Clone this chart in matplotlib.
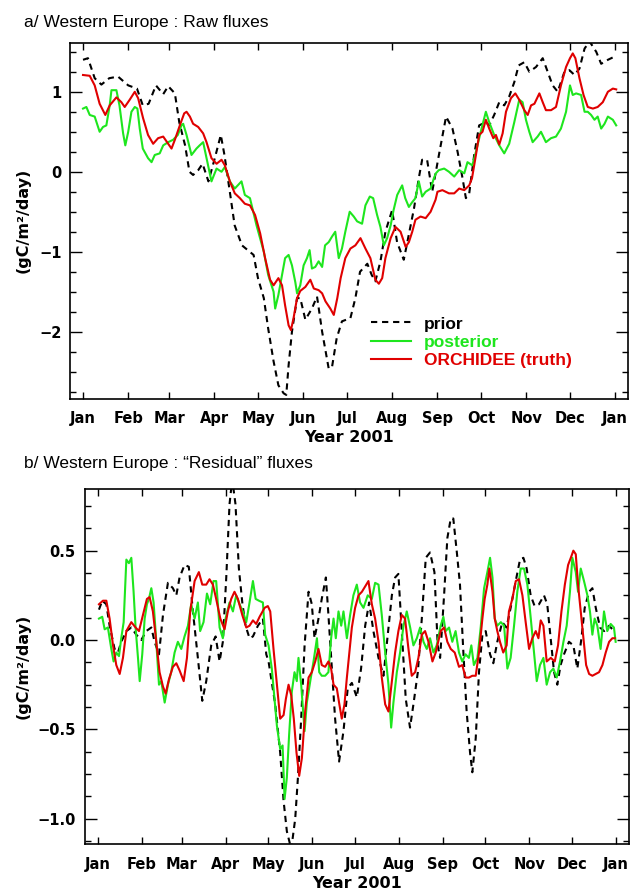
#!/usr/bin/env python3

import numpy as np
import matplotlib as mpl
mpl.use('Agg')
import matplotlib.pyplot as plt
from matplotlib.ticker import MultipleLocator, FuncFormatter

# day of year (0 = 1 Jan 2001) and fluxes in gC/m2/day

# ---- panel a : raw fluxes
a_prior_day = [0, 3.4, 8, 12.6, 18, 24, 31, 37, 41, 45, 50, 55, 58.4, 63, 66, 70, 73, 75.5, 79, 82,
               86, 90.4, 94.5, 97, 101, 104, 109, 113, 117, 120,
               124, 127, 130.7, 134, 137.6, 139.4, 141, 143.3, 146.8, 149, 152.5, 157, 160.5, 164,
               168.5, 170.8, 174, 177.6, 183.4, 186.8, 190, 195, 198, 200.5, 204, 207.4, 212, 215.4,
               220, 222, 227, 230.3, 232.6, 236, 239.5, 244, 249,
               253.4, 256.9, 260.3, 262.6, 264.9, 268.3, 271.7, 276.3, 278.6, 282, 285.5, 288.9,
               292.3, 295.8, 298.8, 302.7, 306.1, 310.7, 315.3, 318.7, 322.1, 325.6, 330.2, 333.6,
               337.1, 340.5, 344, 347.4, 352, 355.4, 360, 364.6]
a_prior_val = [1.40, 1.42, 1.17, 1.09, 1.17, 1.19, 1.08, 1.04, 0.83, 0.85, 1.08, 0.97, 1.07, 0.98, 0.62,
               0.33, 0.0, -0.04, 0.02, 0.10, -0.12, 0.17, 0.46, 0.21, -0.29, -0.67, -0.92, -0.98, -1.04, -1.33,
               -1.58, -1.96, -2.37, -2.67, -2.77, -2.79, -2.42, -2.0, -1.58, -1.58, -1.85, -1.71, -1.56, -2.0,
               -2.46, -2.44, -2.08, -1.87, -1.83, -1.58, -1.25, -1.15, -1.29, -1.37, -1.12, -0.75, -0.48, -0.88,
               -1.10, -0.92, -0.46, -0.08, 0.15, 0.15, -0.25, 0.2, 0.69,
               0.54, 0.25, -0.08, -0.33, -0.27, 0.21, 0.58, 0.62, 0.58, 0.71, 0.87, 0.83,
               0.94, 1.12, 1.33, 1.37, 1.25, 1.31, 1.42, 1.25, 1.08, 1.0, 1.25, 1.27,
               1.21, 1.29, 1.54, 1.63, 1.5, 1.35, 1.4, 1.44]

a_post_day = [0, 2.3, 4.6, 8, 11.4, 13.7, 16, 18.3, 19.5, 22.9, 25, 27.5, 29, 31, 33.2, 35.5, 37.3, 38.9,
              41, 44.6, 47, 49.2, 52.6, 55, 58.4, 61.8, 65, 67.5, 68.7, 71, 74.4, 77.8, 80, 82.4, 84.7,
              88.1, 91.6, 95, 97.3, 100.7, 104.1, 108.7, 111, 114.5,
              119, 124, 127, 130.7, 131.8, 134, 136.5, 138.6, 141, 143.3, 145.6, 146.8, 149, 151.3,
              153.6, 155.4, 157, 159.3, 161.6, 164, 166, 168.5, 170.8, 173, 175.4, 177.6, 179.9, 182.9,
              185.7, 188, 191.4, 193.7, 196.7, 199, 201.7, 204, 206.3, 208.6, 211, 213, 215.5, 218.9,
              221, 223.5, 225.8, 228, 230.3, 232.6, 235, 238.4, 240.7,
              242, 244, 247.7, 251, 254.6, 258, 261.5, 263.7, 267, 269.5, 272.8, 276.3, 278.6, 282,
              285.5, 288.9, 292.3, 295.8, 299.2, 301.5, 303.8, 306.1, 308.4, 311.8, 314.1, 317.5, 321,
              324.4, 327.8, 331.3, 334, 335.9, 338.2, 341.6, 344, 346.2, 348.5, 350.8, 353, 355.4,
              357.7, 360, 363.4, 365.7]
a_post_val = [0.79, 0.81, 0.71, 0.69, 0.5, 0.56, 0.58, 0.83, 1.02, 1.02, 0.83, 0.48, 0.33, 0.5, 0.75, 0.81,
              0.79, 0.54, 0.29, 0.17, 0.12, 0.21, 0.23, 0.33, 0.37, 0.40, 0.46, 0.58, 0.60, 0.46, 0.21,
              0.29, 0.33, 0.37, 0.17, -0.12, 0.04, 0.0, 0.06, -0.12, -0.21, -0.12, -0.29, -0.33,
              -0.67, -1.0, -1.29, -1.5, -1.71, -1.54, -1.29, -1.08, -1.04, -1.17, -1.38, -1.52, -1.42, -1.17,
              -1.08, -0.98, -1.21, -1.19, -1.12, -1.19, -0.92, -0.88, -0.81, -0.75, -1.08, -0.96, -0.75, -0.50,
              -0.56, -0.62, -0.65, -0.42, -0.31, -0.33, -0.54, -0.69, -0.92, -0.83, -0.67, -0.48, -0.29, -0.17,
              -0.33, -0.44, -0.38, -0.33, -0.12, -0.31, -0.25, -0.21, -0.08,
              -0.02, 0.02, 0.04, 0.0, -0.06, 0.02, -0.02, 0.12, 0.08, 0.25, 0.5, 0.75, 0.62, 0.46,
              0.33, 0.23, 0.35, 0.62, 0.9, 0.87, 0.65, 0.5, 0.37, 0.44, 0.5, 0.37, 0.42,
              0.44, 0.54, 0.75, 1.08, 0.96, 0.98, 0.96, 0.75, 0.75, 0.71, 0.65, 0.69, 0.54,
              0.6, 0.69, 0.65, 0.58]

a_truth_day = [0, 4.6, 8, 11.4, 15.3, 18.3, 22.9, 26.3, 28.6, 32, 35.5, 37.8, 41.2, 44.6, 48.1, 51.5, 55,
               58.4, 60.7, 63, 66.4, 69.4, 71, 73.3, 75.5, 79, 82.4, 84.7, 88.1, 91.6, 95, 97.3, 100.7,
               104.1, 107.6, 111, 114.5,
               118, 121.5, 124.9, 128.3, 130.7, 134, 136.5, 138.6, 141, 142.6, 144.4, 146.8, 149, 152.5,
               155.9, 158.3, 161.6, 164, 166.3, 169.6, 172, 174.4, 176.7, 179.9, 183.4, 186.8, 190.3,
               193.7, 197.1, 200.5, 202.9, 205.2, 207.4, 211, 214.3, 217.8, 221.3, 223.5, 225.8, 228,
               231.5, 235, 238.4, 241.8,
               243.1, 246.5, 251, 254.6, 258, 261.5, 264.9, 266.8, 269.5, 271.7, 274, 276.3, 278.6, 281.4,
               283.2, 285.5, 287.8, 290.1, 293.5, 296.5, 299.2, 302.7, 305, 307.3, 309.6, 313, 315.3,
               317.5, 321, 324.4, 327.8, 331.3, 334, 335.9, 337.7, 340.5, 343.3, 346.2, 349.7, 353,
               356.5, 360, 363.4, 365.7]
a_truth_val = [1.21, 1.2, 1.08, 0.85, 0.71, 0.83, 0.93, 0.87, 0.81, 0.9, 1.0, 0.92, 0.67, 0.46, 0.35, 0.42,
               0.44, 0.35, 0.29, 0.4, 0.58, 0.73, 0.75, 0.69, 0.6, 0.56, 0.48, 0.37, 0.17, 0.1, 0.15, 0.08,
               -0.12, -0.27, -0.33, -0.4, -0.42,
               -0.54, -0.77, -1.08, -1.35, -1.42, -1.33, -1.42, -1.67, -1.92, -1.98, -1.83, -1.58, -1.49, -1.44,
               -1.35, -1.46, -1.48, -1.52, -1.62, -1.71, -1.79, -1.58, -1.33, -1.08, -0.96, -0.92, -0.83,
               -0.96, -1.08, -1.35, -1.4, -1.33, -1.08, -0.83, -0.69, -0.75, -0.94, -0.88, -0.75, -0.6,
               -0.56, -0.58, -0.5, -0.35,
               -0.25, -0.23, -0.27, -0.27, -0.21, -0.23, -0.17, -0.08, 0.21, 0.46, 0.5, 0.65, 0.54, 0.42,
               0.46, 0.34, 0.48, 0.75, 0.92, 0.98, 0.9, 0.77, 0.71, 0.83, 0.85, 0.98, 0.87,
               0.77, 0.77, 0.81, 1.08, 1.31, 1.42, 1.48, 1.42, 1.17, 0.96, 0.81, 0.79, 0.81,
               0.87, 1.0, 1.04, 1.03]

# ---- panel b : "residual" fluxes
b_prior_day = [0.7, 3, 5.9, 8.2, 11.7, 14.1, 16.4, 20, 23.5, 27, 30.5, 34, 37.6, 39.9, 43, 45.8, 49.3,
               52.8, 55.2, 57.5, 61, 64, 66.9, 70.4, 73.5, 76.3, 79.8, 82.9, 85.7, 88, 90.4, 92.7, 94.6,
               96.9, 99.3, 101.7, 104, 106.8, 109.2, 112.7, 116.2, 118.6,
               120.2, 124.9, 128.4, 130.8, 133.1, 136.2, 139, 140.9, 143.2, 145.6, 148.4, 150.7, 152.6,
               155.4, 157.7, 160.6, 162.4, 164.8, 167.1, 169.9, 173, 176, 178.9, 182.4, 185.4, 188.3,
               191.1, 194.1, 197.7, 201.2, 204.2, 207.1, 209.4, 211.7, 214.1, 216.9, 219.9, 222.3,
               225.4, 228.2, 231, 234, 237.1, 239.4, 241.1,
               243.9, 246.2, 248.6, 250.4, 252.9, 255.1, 257.5, 259.8, 262.2, 263.8, 266.2, 268.5,
               270.9, 273.2, 276.3, 278.6, 281.4, 284.9, 287.9, 290.8, 294.4, 297.4, 299.8, 302.1,
               304.9, 307.7, 310.8, 314.3, 316.6, 319, 321.4, 323.7, 326, 328.4, 331.9, 335, 337.8,
               340.7, 343, 346.1, 348.4, 350.8, 353.8, 356.7, 360.2, 363.7]
b_prior_val = [0.17, 0.22, 0.2, 0.08, -0.05, -0.07, -0.01, 0.05, 0.07, 0.03, 0.0, 0.05, 0.07, -0.01, -0.08,
               0.14, 0.32, 0.29, 0.25, 0.35, 0.42, 0.41, 0.16, -0.10, -0.34, -0.23, -0.03, 0.02, -0.12,
               -0.01, 0.35, 0.76, 0.90, 0.76, 0.4, 0.21, 0.08, 0.01, 0.02, 0.08, 0.12, -0.08,
               -0.12, -0.36, -0.63, -0.9, -1.07, -1.17, -1.0, -0.77, -0.44, -0.03, 0.27, 0.2, 0.01,
               0.12, 0.23, 0.35, 0.14, -0.16, -0.44, -0.68, -0.51, -0.27, -0.24, -0.32, -0.16, 0.08,
               0.21, 0.05, -0.1, -0.2, 0.03, 0.25, 0.35, 0.37, 0.05, -0.33, -0.49, -0.36,
               -0.18, 0.12, 0.46, 0.49, 0.38, -0.03, -0.1,
               0.25, 0.57, 0.68, 0.68, 0.49, 0.31, -0.07, -0.4, -0.63, -0.74, -0.55, -0.18,
               0.03, 0.05, -0.08, -0.13, -0.01, 0.10, 0.07, 0.18, 0.33, 0.45, 0.46, 0.4,
               0.25, 0.19, 0.2, 0.25, 0.2, 0.01, -0.18, -0.25, -0.14, -0.08, -0.01, -0.03, -0.16,
               0.01, 0.18, 0.27, 0.29, 0.18, 0.07, 0.05, 0.08, 0.05]

b_post_day = [0.7, 3, 4.7, 7, 9.4, 11, 12.9, 14.8, 16.4, 18.1, 20, 21.8, 23.5, 25.1, 26.5, 28.2, 29.4,
              31.2, 32.9, 34.5, 35.9, 37.6, 39.2, 41.1, 43, 44.6, 47, 49.3, 51.6, 54, 56.3, 58.7, 61,
              63.4, 65.7, 68.1, 70.4, 72, 74.4, 76.8, 79.1, 81.4, 83.3, 85.7, 88, 89.9, 92.7, 95.1,
              97.4, 99.8, 102.1, 104.5, 106.8, 109.2, 111.1, 113.4, 116.2,
              117.8, 120.2, 122.5, 124.4, 126.1, 128.4, 130.1, 131.5, 133.1, 134.7, 136.6, 138.5,
              140.1, 141.3, 143.2, 145.6, 147.2, 149.6, 151.9, 154.3, 155.9, 157.7, 160.1, 162.4,
              164.3, 166, 167.6, 169.5, 171.4, 173, 175.4, 177.7, 180, 182.4, 184.7, 187.1, 190.1,
              193, 195.3, 197.7, 200, 202.4, 204.7, 206.6, 208.2, 210.6, 212.9, 215.3, 217.6, 220,
              222.3, 224.7, 227, 229.4, 231.7, 234, 236.4, 238.7,
              241.5, 243.4, 245, 247.4, 249.7, 252, 254.4, 256.7, 259, 261.4, 263.1, 264.9, 267.4,
              269.7, 272.1, 274.4, 276.3, 278, 279.6, 281.4, 283.9, 286.2, 288.5, 290.8, 293.2,
              295.5, 297.9, 300.2, 302.6, 305, 307.3, 309.2, 311.5, 313.9, 316.2, 318.6, 320.9,
              323.3, 325.6, 328, 330.3, 332.6, 334.3, 336.7, 338.3, 340.2, 342.5, 344.9, 346.7,
              348.4, 350, 351.9, 354.2, 356.6, 358.9, 361.3, 363.6, 364.8]
b_post_val = [0.12, 0.13, 0.06, 0.07, -0.05, -0.12, -0.07, -0.09, 0.01, 0.10, 0.45, 0.43, 0.46, 0.27, 0.07,
              -0.10, -0.23, -0.08, 0.12, 0.2, 0.23, 0.29, 0.21, -0.01, -0.25, -0.23, -0.35, -0.25, -0.18,
              -0.07, -0.01, -0.05, 0.02, 0.08, 0.2, 0.12, 0.21, 0.05, 0.1, 0.26, 0.2, 0.33, 0.33, 0.07,
              0.01, 0.12, 0.21, 0.16, 0.25, 0.2, 0.16, 0.10, 0.21, 0.33, 0.23, 0.22, 0.21,
              0.03, -0.03, -0.16, -0.33, -0.48, -0.61, -0.59, -0.89, -0.77, -0.53, -0.29, -0.18,
              -0.23, -0.1, -0.25, -0.51, -0.35, -0.23, -0.12, 0.01, -0.18, -0.2, -0.2, -0.18,
              0.01, 0.12, 0.01, 0.16, 0.08, 0.16, 0.01, 0.14, 0.25, 0.31, 0.21, 0.18, 0.25,
              0.23, 0.32, 0.31, 0.14, -0.07, -0.25, -0.49, -0.35, -0.18, -0.07, 0.08, 0.16, 0.07,
              -0.03, 0.01, 0.07, -0.01, -0.05, 0.01, -0.07, -0.03,
              0.08, 0.13, 0.05, 0.07, -0.01, 0.05, -0.07, -0.12, -0.08, -0.1, -0.03, -0.14, -0.1,
              0.07, 0.29, 0.38, 0.46, 0.35, 0.12, 0.08, 0.10, 0.08, -0.16, -0.10, 0.08,
              0.27, 0.40, 0.40, 0.31, 0.12, -0.07, -0.23, -0.14, -0.10, -0.25, -0.18, -0.16,
              -0.21, -0.12, -0.01, 0.08, 0.27, 0.46, 0.38, 0.27, 0.40, 0.33, 0.25, 0.16,
              0.03, 0.12, 0.08, -0.05, 0.16, 0.05, 0.09, 0.07, -0.01]

b_truth_day = [0.7, 3.5, 5.9, 8.2, 10.6, 12.9, 15.3, 17.6, 20, 23.5, 26.5, 28.9, 31.7, 34.5, 36.4, 38.7,
               41.1, 43.4, 45.8, 47.7, 50, 52.8, 55.2, 57.5, 60.4, 62.7, 65, 68.1, 71.1, 73.5, 76.3,
               78.6, 81, 83.3, 86.2, 89.2, 91.5, 93.9, 96.2, 98.6, 101.7, 104.5, 106.8, 109.2, 111.5,
               113.9, 117.4,
               119.7, 121.4, 123.7, 126.1, 128.4, 130.8, 132.4, 134.3, 136.2, 138, 139.9, 141.8, 143.7,
               146, 148.4, 150.7, 153.1, 155.4, 157.7, 160.1, 162.4, 164.3, 166, 168.3, 169.9, 171.8,
               173.7, 175.4, 177, 178.9, 181.2, 183.6, 186, 188.3, 190.6, 193, 195.3, 197.7, 200,
               202.4, 204.7, 207.1, 209.4, 211.7, 214.1, 216.4, 218.8, 221.1, 223.5, 225.8, 228.2,
               230.5, 232.9, 235.7, 238,
               241.5, 243.9, 246.2, 248.6, 251.4, 254.4, 256.7, 259.1, 261.4, 263.8, 266.2, 268.5,
               270.9, 272.5, 274.4, 275.8, 278, 279.6, 281.4, 283.3, 285.6, 288, 289.6, 292, 294.4,
               296.7, 299.1, 301.4, 303.8, 306.1, 308.5, 310.4, 312, 313.9, 316.2, 319.1, 321.9,
               324.2, 326.6, 329, 331.3, 333.2, 335, 336.7, 338.3, 340.2, 342.1, 344, 346.1, 348.4,
               350.8, 353.1, 355.5, 357.8, 360.2, 362.5, 364.2]
b_truth_val = [0.2, 0.22, 0.22, 0.12, -0.03, -0.14, -0.19, -0.10, 0.05, 0.10, 0.07, 0.05, 0.14, 0.23, 0.24,
               0.16, -0.01, -0.18, -0.26, -0.30, -0.22, -0.15, -0.13, -0.17, -0.23, -0.10, 0.16, 0.33,
               0.38, 0.31, 0.31, 0.34, 0.31, 0.23, 0.12, 0.06, 0.16, 0.23, 0.27, 0.23, 0.14, 0.07, 0.08,
               0.11, 0.09, 0.13, 0.18,
               0.19, 0.16, -0.05, -0.25, -0.44, -0.42, -0.33, -0.25, -0.31, -0.44, -0.63, -0.76, -0.66,
               -0.40, -0.21, -0.18, -0.12, -0.05, -0.14, -0.15, -0.12, -0.16, -0.25, -0.27, -0.35, -0.44,
               -0.36, -0.21, -0.08, 0.07, 0.18, 0.25, 0.27, 0.30, 0.33, 0.20, 0.12, -0.01, -0.21,
               -0.36, -0.40, -0.23, -0.07, 0.05, 0.14, 0.12, -0.05, -0.2, -0.18, -0.1, 0.03,
               0.05, -0.01, -0.12, -0.07,
               0.05, 0.07, -0.01, -0.05, -0.07, -0.15, -0.14, -0.21, -0.21, -0.2, -0.2, -0.07,
               0.12, 0.23, 0.31, 0.4, 0.27, 0.12, 0.05, -0.01, -0.07, -0.03, 0.16, 0.23, 0.33,
               0.34, 0.25, 0.10, -0.05, 0.01, 0.05, 0.01, 0.11, 0.08, -0.12, -0.10, -0.12,
               -0.03, 0.16, 0.31, 0.42, 0.46, 0.50, 0.48, 0.31, 0.16, 0.01, -0.14, -0.19, -0.2,
               -0.19, -0.18, -0.14, -0.07, -0.01, 0.01, 0.01]

month_start = [0, 31, 59, 90, 120, 151, 181, 212, 243, 273, 304, 334, 365]
month_names = ['Jan', 'Feb', 'Mar', 'Apr', 'May', 'Jun', 'Jul', 'Aug', 'Sep', 'Oct', 'Nov', 'Dec', 'Jan']

GREEN = '#1ee61e'
RED = '#e00000'
W, H = 633, 891


def minus(x, fmt):
    return (fmt % x).replace('-', '\u2212')


def setup_axes(ax, ylim, ymajor, yminor, fmt, ypad):
    ax.set_xlim(-9, 374)
    ax.set_ylim(*ylim)
    ax.set_xticks(month_start)
    ax.set_xticklabels(month_names)
    ax.yaxis.set_major_locator(MultipleLocator(ymajor))
    ax.yaxis.set_minor_locator(MultipleLocator(yminor))
    ax.yaxis.set_major_formatter(FuncFormatter(lambda x, p: minus(x, fmt)))
    ax.tick_params(axis='both', which='both', direction='in', top=True, right=True, width=1.0,
                   labelsize=10.5)
    ax.tick_params(axis='x', which='major', length=4.8, pad=9)
    ax.tick_params(axis='y', which='major', length=8.4, pad=ypad)
    ax.tick_params(axis='y', which='minor', length=4.2)
    for lab in ax.get_xticklabels() + ax.get_yticklabels():
        lab.set_fontweight('bold')
    for sp in ax.spines.values():
        sp.set_linewidth(1.2)
    ax.set_xlabel('Year 2001', fontsize=11.5, fontweight='bold', labelpad=3)
    ax.set_ylabel('(gC/m\u00b2/day)', fontsize=11.5, fontweight='bold')


def draw(ax, prior, post, truth):
    ax.plot(prior[0], prior[1], color='black', lw=1.5, linestyle=(0, (3, 2.3)), label='prior')
    ax.plot(post[0], post[1], color=GREEN, lw=1.5, label='posterior')
    ax.plot(truth[0], truth[1], color=RED, lw=1.5, label='ORCHIDEE (truth)')


def main():
    plt.rcParams['font.family'] = ['DejaVu Sans']
    fig = plt.figure(figsize=(W / 100, H / 100), dpi=100)

    # panel a
    ax1 = fig.add_axes([69.9 / W, (H - 398.5) / H, 558.4 / W, 355.5 / H])
    draw(ax1, (a_prior_day, a_prior_val), (a_post_day, a_post_val), (a_truth_day, a_truth_val))
    setup_axes(ax1, (-2.835, 1.61), 1, 0.25, '%g', 6)
    ax1.yaxis.set_label_coords(-0.0706, 0.5)
    ax1.legend(loc='upper left', bbox_to_anchor=(0.539, 0.231), frameon=False,
               borderpad=0, borderaxespad=0, handlelength=2.3, handletextpad=0.77,
               labelspacing=0.17,
               prop={'family': 'Liberation Sans', 'weight': 'bold', 'size': 12.5},
               labelcolor=['black', GREEN, RED])
    fig.text(24 / W, 1 - 22.5 / H, 'a/ Western Europe : Raw fluxes', fontsize=12.5,
             family='Liberation Sans', va='center', ha='left')

    # panel b
    ax2 = fig.add_axes([85.2 / W, (H - 844.3) / H, 543.5 / W, 355.3 / H])
    draw(ax2, (b_prior_day, b_prior_val), (b_post_day, b_post_val), (b_truth_day, b_truth_val))
    setup_axes(ax2, (-1.143, 0.845), 0.5, 0.125, '%.1f', 7)
    ax2.yaxis.set_label_coords(-0.1006, 0.5)
    fig.text(24 / W, 1 - 464 / H, 'b/ Western Europe : \u201cResidual\u201d fluxes', fontsize=12.5,
             family='Liberation Sans', va='center', ha='left')

    fig.savefig('out.png', dpi=100)


if __name__ == '__main__':
    main()
